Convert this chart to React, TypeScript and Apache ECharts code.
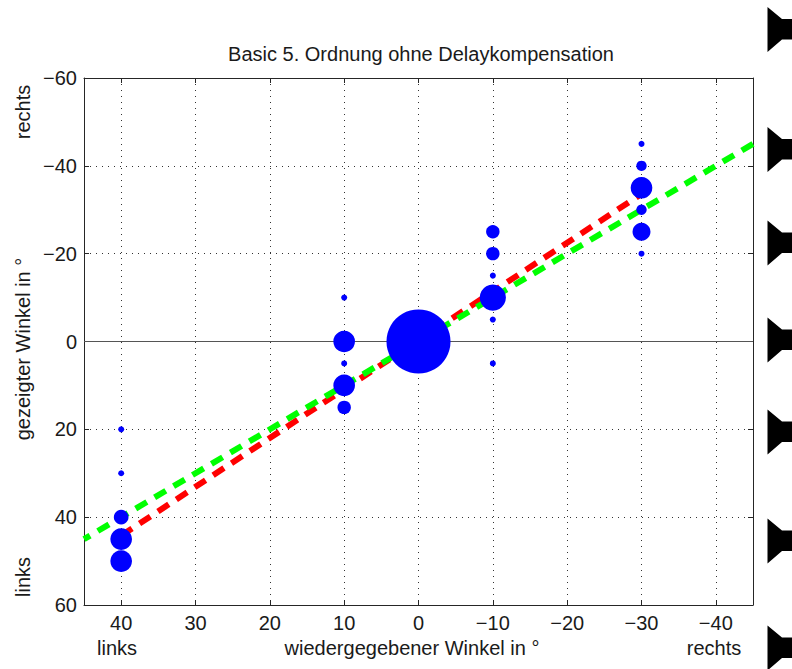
import React, { useEffect, useRef } from "react";
import * as echarts from "echarts";

// Presented angle (x) vs. indicated angle (y), in degrees
const xRange = [-45, 45];
const yRange = [-60, 60];
const yInterval = 20;

// Responses: presented angle, indicated angle, number of answers
const bubbleX = [40, 40, 40, 40, 40, 10, 10, 10, 10, 10, 0, -10, -10, -10, -10, -10, -10, -30, -30, -30, -30, -30, -30];
const bubbleY = [20, 30, 40, 45, 50, -10, 0, 5, 10, 15, 0, -25, -20, -15, -10, -5, 5, -45, -40, -35, -30, -25, -20];
const bubbleCount = [1, 1, 6, 13, 13, 1, 13, 1, 13, 5, 114, 5, 5, 1, 19, 1, 1, 1, 3, 13, 3, 9, 1];

// Ideal localisation (y = x) and the fitted regression line
const idealX = [-45, 45];
const idealY = [-45, 45];
const fitX = [40, -30];
const fitY = [44.2, -33.6];

// Loudspeaker icons along the right edge (pixel centres)
const speakerCentres = [29.5, 149.5, 243, 340, 432, 541, 648];

const titleText = "Basic 5. Ordnung ohne Delaykompensation";
const xName = "wiedergegebener Winkel in \u00b0";
const yName = "gezeigter Winkel in \u00b0";
const leftWord = "links";
const rightWord = "rechts";

const FONT = '"Liberation Sans", Arial, Helvetica, sans-serif';
const TEXT = "#1a1a1a";
const AXIS = "#262626";

const fmt = (v: number) => (v < 0 ? "\u2212" + Math.abs(v) : String(v));

export default function App() {
  const ref = useRef<HTMLDivElement>(null);

  useEffect(() => {
    if (!ref.current) return;
    const chart = echarts.init(ref.current, undefined, { renderer: "svg" });

    const bubbles = bubbleX.map((x, i) => [x, bubbleY[i], bubbleCount[i]]);
    const ideal = idealX.map((x, i) => [x, idealY[i]]);
    const fit = fitX.map((x, i) => [x, fitY[i]]);

    const speakerShapes = speakerCentres.map((c) => ({
      type: "polygon",
      silent: true,
      shape: {
        points: [
          [767.5, c - 22.5],
          [782, c - 10.5],
          [794, c - 10.5],
          [794, c + 10],
          [782, c + 10],
          [767.5, c + 22.5],
        ],
      },
      style: { fill: "#000" },
    }));

    const baseX = {
      type: "value",
      min: xRange[0],
      max: xRange[1],
      inverse: true,
      splitNumber: 9,
      minInterval: 10,
      maxInterval: 10,
    };
    const baseY = {
      type: "value",
      min: yRange[0],
      max: yRange[1],
      interval: yInterval,
      inverse: true,
    };

    const option: any = {
      animation: false,
      backgroundColor: "#ffffff",
      grid: { left: 84, top: 78, width: 669, height: 527 },
      xAxis: [
        {
          ...baseX,
          position: "bottom",
          axisLine: { show: true, onZero: false, lineStyle: { color: AXIS, width: 1 } },
          axisTick: { show: true, inside: true, length: 5, lineStyle: { color: AXIS } },
          axisLabel: {
            show: true,
            margin: 8,
            fontSize: 20,
            fontFamily: FONT,
            color: TEXT,
            showMinLabel: false,
            showMaxLabel: false,
            formatter: fmt,
          },
          splitLine: { show: true, lineStyle: { color: "#333", width: 1, type: [1, 5] } },
        },
        {
          ...baseX,
          position: "top",
          axisLine: { show: true, onZero: false, lineStyle: { color: AXIS, width: 1 } },
          axisTick: { show: true, inside: true, length: 5, lineStyle: { color: AXIS } },
          axisLabel: { show: false },
          splitLine: { show: false },
        },
      ],
      yAxis: [
        {
          ...baseY,
          position: "left",
          axisLine: { show: true, onZero: false, lineStyle: { color: AXIS, width: 1 } },
          axisTick: { show: true, inside: true, length: 5, lineStyle: { color: AXIS } },
          axisLabel: {
            show: true,
            margin: 7,
            fontSize: 20,
            fontFamily: FONT,
            color: TEXT,
            formatter: fmt,
          },
          splitLine: { show: true, lineStyle: { color: "#333", width: 1, type: [1, 5] } },
        },
        {
          ...baseY,
          position: "right",
          axisLine: { show: true, onZero: false, lineStyle: { color: AXIS, width: 1 } },
          axisTick: { show: true, inside: true, length: 5, lineStyle: { color: AXIS } },
          axisLabel: { show: false },
          splitLine: { show: false },
        },
      ],
      series: [
        {
          // zero reference line
          type: "line",
          data: [],
          z: 1,
          markLine: {
            silent: true,
            symbol: "none",
            label: { show: false },
            lineStyle: { color: "#555", width: 1, type: "solid" },
            data: [{ yAxis: 0 }],
          },
        },
        {
          type: "line",
          data: fit,
          z: 2,
          symbol: "none",
          lineStyle: { color: "#ff0000", width: 6, type: [13, 9], cap: "butt" },
        },
        {
          type: "line",
          data: ideal,
          z: 3,
          symbol: "none",
          lineStyle: { color: "#00ff00", width: 6, type: [13, 9], cap: "butt" },
        },
        {
          type: "scatter",
          data: bubbles,
          z: 5,
          symbolSize: (d: number[]) => 6 * Math.sqrt(d[2]),
          itemStyle: { color: "#0000ff", opacity: 1 },
        },
      ],
      graphic: [
        {
          type: "text",
          x: 421,
          y: 54,
          style: {
            text: titleText,
            font: `20px ${FONT}`,
            fill: TEXT,
            align: "center",
            verticalAlign: "middle",
          },
        },
        {
          type: "text",
          x: 412,
          y: 648,
          style: { text: xName, font: `20px ${FONT}`, fill: TEXT, align: "center", verticalAlign: "middle" },
        },
        {
          type: "text",
          x: 117,
          y: 648,
          style: { text: leftWord, font: `20px ${FONT}`, fill: TEXT, align: "center", verticalAlign: "middle" },
        },
        {
          type: "text",
          x: 714,
          y: 648,
          style: { text: rightWord, font: `20px ${FONT}`, fill: TEXT, align: "center", verticalAlign: "middle" },
        },
        {
          type: "text",
          x: 23,
          y: 349,
          rotation: Math.PI / 2,
          style: { text: yName, font: `20px ${FONT}`, fill: TEXT, align: "center", verticalAlign: "middle" },
        },
        {
          type: "text",
          x: 23,
          y: 112,
          rotation: Math.PI / 2,
          style: { text: rightWord, font: `20px ${FONT}`, fill: TEXT, align: "center", verticalAlign: "middle" },
        },
        {
          type: "text",
          x: 23,
          y: 577,
          rotation: Math.PI / 2,
          style: { text: leftWord, font: `20px ${FONT}`, fill: TEXT, align: "center", verticalAlign: "middle" },
        },
        ...speakerShapes,
      ],
    };

    chart.setOption(option);
    return () => chart.dispose();
  }, []);

  return (
    <div
      ref={ref}
      style={{ position: "fixed", left: 0, top: 0, width: 792, height: 669, background: "#fff" }}
    />
  );
}
